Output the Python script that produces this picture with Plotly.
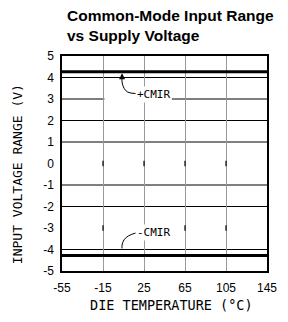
import plotly.graph_objects as go

# ---- data ----
temps = [-55, -15, 25, 65, 105, 145]
cmir_pos = [4.27, 4.27, 4.27, 4.27, 4.27, 4.27]
cmir_neg = [-4.28, -4.28, -4.28, -4.28, -4.28, -4.28]
y_ticks = [5, 4, 3, 2, 1, 0, -1, -2, -3, -4, -5]
y_tick_text = ["5", "4", "3", "2", "1", "0", "-1", "-2", "-3", "-4", "-5"]
x_tick_text = ["-55", "-15", "25", "65", "105", "145"]
grid_levels = [4, 3, 2, 1, -1, -2, -4]
inner_grid_x = [-15, 25, 65, 105]
mark_levels = [0, -3]

# leader curves (label -> line)
lead_pos_x = [17.6, 9.2, 5.5, 3.6, 3.6]
lead_pos_y = [3.25, 3.32, 3.50, 3.79, 4.00]
lead_neg_x = [17.6, 10.1, 5.5, 3.6, 3.6]
lead_neg_y = [-3.22, -3.36, -3.55, -3.79, -3.95]
label_pos = dict(text="+CMIR", x=33.8, y=3.22, tip_y=4.20)
label_neg = dict(text="-CMIR", x=34.3, y=-3.22, tip_y=-4.03)
mask_x = [-13.6, 52.0]

mono = "DejaVu Sans Mono"
tickfont = dict(family="Liberation Sans", size=12, color="black")

fig = go.Figure()
fig.add_trace(go.Scatter(x=temps, y=cmir_pos, mode="lines",
                         line=dict(color="black", width=3), hoverinfo="skip"))
fig.add_trace(go.Scatter(x=temps, y=cmir_neg, mode="lines",
                         line=dict(color="black", width=3), hoverinfo="skip"))
for lx, ly in ((lead_pos_x, lead_pos_y), (lead_neg_x, lead_neg_y)):
    fig.add_trace(go.Scatter(x=lx, y=ly, mode="lines", line_shape="spline",
                             line=dict(color="black", width=1), hoverinfo="skip"))

mx, my = [], []
for lv in mark_levels:
    for gx in inner_grid_x:
        mx.append(gx)
        my.append(lv)
fig.add_trace(go.Scatter(x=mx, y=my, mode="markers",
                         marker=dict(symbol="line-ns-open", size=4, color="black",
                                     line=dict(color="black", width=1.2)),
                         hoverinfo="skip"))

shapes = []
for lv in grid_levels:
    shapes.append(dict(type="line", xref="paper", x0=0, x1=1, yref="y", y0=lv, y1=lv,
                       line=dict(color="black", width=1), layer="between"))
shapes.append(dict(type="rect", xref="x", x0=mask_x[0], x1=mask_x[1], yref="y",
                   y0=2.9, y1=3.1, fillcolor="white", line=dict(width=0), layer="between"))

annotations = []
for lab, lx, ly in ((label_pos, lead_pos_x, lead_pos_y), (label_neg, lead_neg_x, lead_neg_y)):
    annotations.append(dict(x=lab["x"], y=lab["y"], xref="x", yref="y", text=lab["text"],
                            showarrow=False, bgcolor="white", borderpad=1,
                            font=dict(family=mono, size=11, color="black")))
    annotations.append(dict(x=lx[-1], y=lab["tip_y"], xref="x", yref="y",
                            ax=lx[-1], ay=ly[-1], axref="x", ayref="y", text="",
                            showarrow=True, arrowhead=2, arrowsize=1.2, arrowwidth=1,
                            arrowcolor="black"))

annotations.append(dict(text="DIE TEMPERATURE (°C)", xref="paper", yref="paper",
                        x=0.535, y=-0.158, xanchor="center", yanchor="middle",
                        showarrow=False,
                        font=dict(family=mono, size=13.5, color="black")))
annotations.append(dict(text="INPUT VOLTAGE RANGE (V)", xref="paper", yref="paper",
                        x=-0.219, y=0.451, xanchor="center", yanchor="middle",
                        showarrow=False, textangle=-90,
                        font=dict(family=mono, size=13, color="black")))
annotations.append(dict(text="Common-Mode Input Range<br>vs Supply Voltage",
                        xref="paper", yref="paper", x=0.014, y=1.142,
                        xanchor="left", yanchor="middle", align="left",
                        showarrow=False,
                        font=dict(family="Liberation Sans", size=15.5, color="black",
                                  weight="bold")))

# page body has an 8px margin; figure is sized/offset so the plot sits where the reference has it
fig.update_layout(
    width=280, height=314, autosize=False,
    margin=dict(l=54, r=11, t=48, b=51),
    paper_bgcolor="white", plot_bgcolor="white",
    showlegend=False,
    xaxis=dict(range=[-55, 145], tickvals=temps, ticktext=x_tick_text,
               showgrid=True, gridcolor="#999999", gridwidth=1,
               showline=True, mirror=True, linecolor="black", linewidth=1.5,
               ticks="", tickfont=tickfont, ticklabelstandoff=5, zeroline=False),
    yaxis=dict(range=[-5, 5], tickvals=y_ticks, ticktext=y_tick_text,
               showgrid=False,
               showline=True, mirror=True, linecolor="black", linewidth=1.5,
               ticks="", tickfont=tickfont, ticklabelstandoff=4, zeroline=False),
    shapes=shapes, annotations=annotations,
)

fig.write_html("out.html", config={"displayModeBar": False})
